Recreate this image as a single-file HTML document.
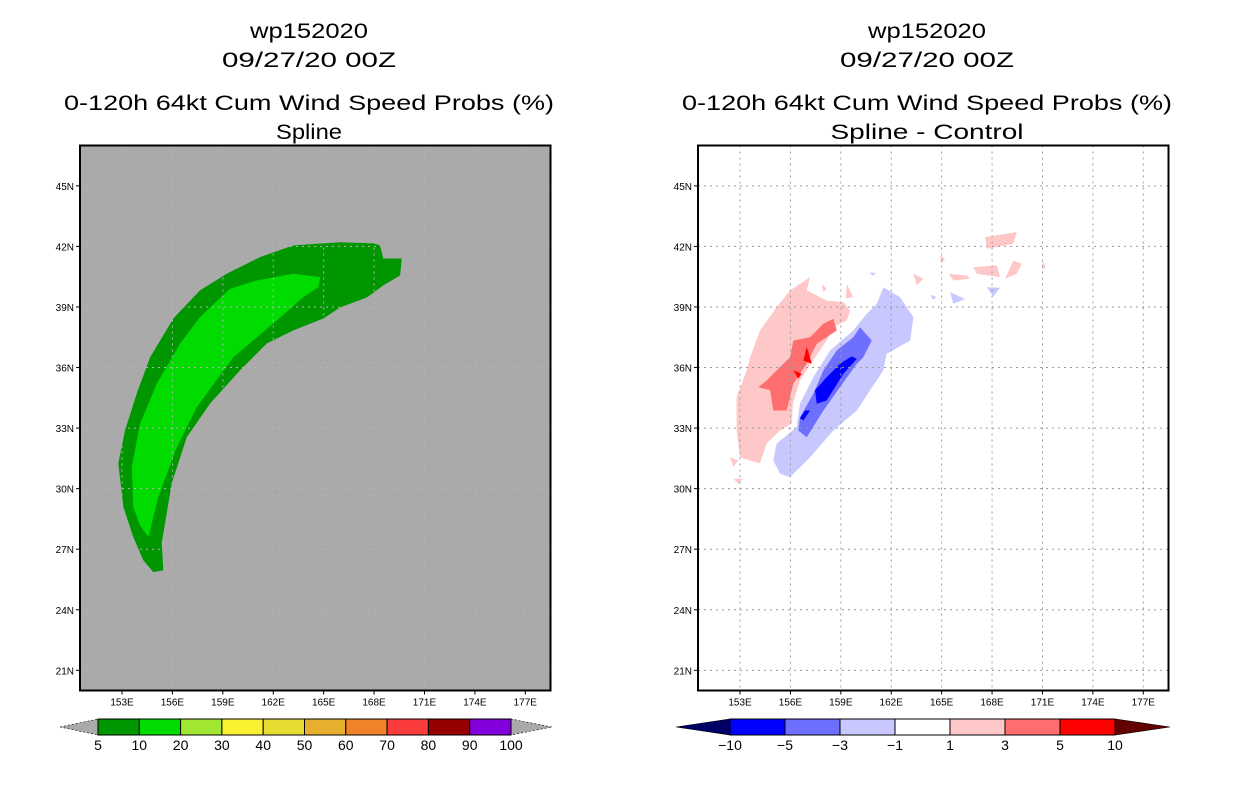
<!DOCTYPE html>
<html><head><meta charset="utf-8"><style>
html,body{margin:0;padding:0;background:#fff}
svg text{font-family:"Liberation Sans",sans-serif}
</style></head><body>
<svg id="s" width="1236" height="800" viewBox="0 0 1236 800" xmlns="http://www.w3.org/2000/svg"></svg>
<script>
const lonTicks=[153,156,159,162,165,168,171,174,177];
const latTicks=[21,24,27,30,33,36,39,42,45];
const lonTickLabels=["153E","156E","159E","162E","165E","168E","171E","174E","177E"];
const latTickLabels=["21N","24N","27N","30N","33N","36N","39N","42N","45N"];
const probLevels=["5","10","20","30","40","50","60","70","80","90","100"];
const probColors=["#009600","#00dc00","#a0e632","#faf032","#e6dc32","#e6af2d","#f08228","#fa3c3c","#960000","#8200dc"];
const diffLevels=["\u221210","\u22125","\u22123","\u22121","1","3","5","10"];
const diffColors=["#0000ff","#6e6eff","#c8c8ff","#ffffff","#ffc8c8","#ff6e6e","#ff0000"];
const prob5Lon=[155.46,155.36,155.96,156.85,158.24,160.02,161.61,163.2,164.98,165.98,167.57,168.55,169.55,169.65,168.55,168.36,167.96,165.98,163.2,161.21,159.23,157.64,156.05,154.67,153.88,153.18,152.78,153.08,153.67,154.27,154.86];
const prob5Lat=[25.95,27.29,30.26,32.54,34.22,35.86,37.19,37.84,38.43,38.98,39.47,40.07,40.56,41.4,41.4,42.05,42.15,42.21,42.05,41.47,40.65,39.82,38.43,36.51,34.72,32.88,31.25,29.09,27.6,26.45,25.87];
const prob10Lon=[154.57,155.16,156.26,157.45,159.63,162.21,163.79,164.68,164.79,163.2,161.02,159.43,157.64,156.45,155.07,154.07,153.58,153.67,154.07];
const prob10Lat=[27.6,29.58,32.06,34.04,36.51,38.33,39.49,39.98,40.48,40.65,40.31,39.9,38.5,37.18,35.2,33.22,31.07,29.09,28.18];
const diffPink1Lon=[157.17,156.97,158.16,159.15,159.55,159.35,158.54,158.16,157.35,156.57,156.15,156.08,155.38,154.59,154.19,153.0,152.8,152.8,153.4,153.6,154.19,155.18,155.98];
const diffPink1Lat=[40.48,39.82,39.32,39.24,38.83,38.33,38.0,37.34,36.35,35.36,34.22,33.23,32.88,32.24,31.25,31.55,32.88,34.53,35.86,36.51,37.84,38.99,39.82];
const diffRedLon=[158.55,158.76,158.16,157.57,156.97,156.17,155.78,154.98,154.79,154.09,154.59,155.18,155.98,156.17,157.17,157.96];
const diffRedLat=[38.42,37.84,37.5,37.18,36.19,35.2,33.87,33.87,34.87,35.03,35.36,35.86,36.51,37.34,37.5,38.17];
const diffDR1Lon=[156.97,157.27,156.77];const diffDR1Lat=[37.03,36.19,36.35];
const diffDR2Lon=[156.17,156.67,156.47];const diffDR2Lat=[35.86,35.69,35.45];
const diffBlueLtLon=[161.53,162.52,163.32,163.12,161.73,161.53,160.74,159.95,158.55,157.17,155.98,155.38,154.98,155.18,156.37,156.57,157.36,158.36,159.74,160.54,161.14];
const diffBlueLtLat=[39.98,39.49,38.5,37.34,36.68,35.86,34.87,33.87,32.88,31.56,30.57,30.74,31.4,32.22,33.05,34.21,35.52,36.85,37.84,38.66,39.16];
const diffBlueLon=[160.14,160.84,160.34,159.95,158.95,157.96,156.97,156.47,156.57,157.36,157.96,158.76,159.74];
const diffBlueLat=[38.0,37.34,36.51,36.19,35.03,33.87,32.55,32.88,33.54,34.7,35.86,36.85,37.5];
const diffBlueDkLon=[159.65,159.95,159.15,158.16,157.57,157.46,158.16,158.95];
const diffBlueDkLat=[36.55,36.43,35.69,34.37,34.21,34.87,35.52,36.19];
const diffBlueDk2Lon=[157.17,156.77,156.57,156.87];const diffBlueDk2Lat=[33.87,33.38,33.48,33.87];
const pinkBlobsLon=[[167.58,169.47,169.27,167.69],[166.89,168.28,168.48,167.09],[169.27,169.77,169.47,168.77],[165.4,166.49,166.69,165.7],[164.9,165.2,165.0],[163.32,163.91,163.52],[159.35,159.74,159.3],[157.86,158.16,157.96],[152.4,152.9,152.6],[152.6,153.2,152.9],[171.0,171.2,171.0]];
const pinkBlobsLat=[[42.46,42.71,42.13,41.88],[40.97,41.06,40.48,40.65],[41.3,41.14,40.65,40.4],[40.65,40.56,40.4,40.31],[41.55,41.39,41.14],[40.65,40.4,40.07],[40.15,39.49,39.42],[40.15,39.9,39.73],[31.56,31.4,31.07],[30.49,30.49,30.24],[41.3,41.0,40.8]];
const blueBlobsLon=[[165.5,166.39,165.7],[167.68,168.48,168.08],[164.3,164.7,164.5],[160.7,161.1,160.9]];
const blueBlobsLat=[[39.73,39.4,39.16],[39.98,39.95,39.52],[39.6,39.5,39.35],[40.7,40.7,40.55]];

const NS='http://www.w3.org/2000/svg';
const svg=document.getElementById('s');
function mk(tag,attrs,parent){const e=document.createElementNS(NS,tag);for(const k in attrs)e.setAttribute(k,attrs[k]);(parent||svg).appendChild(e);return e;}
const LON0=150.5,LON1=178.5,LAT0=20,LAT1=47,W=470.5,H=545,TOP=145.5;
function xs(off){return lon=>off+(lon-LON0)/(LON1-LON0)*W;}
function ys(lat){return TOP+(LAT1-lat)/(LAT1-LAT0)*H;}
function poly(g,x,lons,lats,fill,name){const pts=lons.map((l,i)=>x(l).toFixed(1)+','+ys(lats[i]).toFixed(1)).join(' ');const p=mk('polygon',{points:pts,fill:fill},g);return p;}
function txt(x,y,s,size,anchor,len,name,g){const t=mk('text',{x:x,y:y,'font-size':size,'text-anchor':anchor||'middle',fill:'#000'},g);if(len){t.setAttribute('textLength',len);t.setAttribute('lengthAdjust','spacingAndGlyphs');}t.textContent=s;return t;}

function panel(off,cx,sub,subLen,bg,name){
  const g=mk('g',{});
  txt(cx,38,'wp152020',21,'middle',118,'title-storm-id',g);
  txt(cx,67,'09/27/20 00Z',21,'middle',174,'title-date',g);
  txt(cx,110,'0-120h 64kt Cum Wind Speed Probs (%)',21,'middle',490,'title-product',g);
  txt(cx,139,sub,21,'middle',subLen,'subtitle',g);
  const r=mk('rect',{x:off,y:TOP,width:W,height:H,fill:bg},g);
  return g;
}
function axes(g,off,gridColor){
  const x=xs(off);
  const gg=mk('g',{},g);
  lonTicks.forEach(l=>{const ln=mk('line',{x1:x(l),x2:x(l),y1:TOP,y2:TOP+H,stroke:gridColor,'stroke-width':1,'stroke-dasharray':'2,4'},gg);});
  latTicks.forEach(l=>{const ln=mk('line',{x1:off,x2:off+W,y1:ys(l),y2:ys(l),stroke:gridColor,'stroke-width':1,'stroke-dasharray':'2,4'},gg);});
  const b=mk('rect',{x:off,y:TOP,width:W,height:H,fill:'none',stroke:'#000','stroke-width':2},g);
  lonTicks.forEach((l,i)=>{mk('line',{x1:x(l),x2:x(l),y1:TOP+H,y2:TOP+H+4,stroke:'#000'},g);txt(x(l),TOP+H+15,lonTickLabels[i],10,'middle',null,'x-tick-label',g);});
  latTicks.forEach((l,i)=>{mk('line',{x1:off-4,x2:off,y1:ys(l),y2:ys(l),stroke:'#000'},g);txt(off-6,ys(l)+4,latTickLabels[i],10,'end',null,'y-tick-label',g);});
}
function colorbar(g,x0,x1,tipL,tipR,labels,colors,lc,rc,name){
  const cb=mk('g',{},g);
  const y0=719,y1=735,ym=727,n=colors.length,w=(x1-x0)/n;
  mk('polygon',{points:`${tipL},${ym} ${x0},${y0} ${x0},${y1}`,fill:lc,stroke:'#000','stroke-width':0.6,'stroke-dasharray':lc==='#aaaaaa'?'2,2':'none'},cb);
  mk('polygon',{points:`${tipR},${ym} ${x1},${y0} ${x1},${y1}`,fill:rc,stroke:'#000','stroke-width':0.6,'stroke-dasharray':rc==='#aaaaaa'?'2,2':'none'},cb);
  colors.forEach((c,i)=>{const r=mk('rect',{x:x0+i*w,y:y0,width:w,height:y1-y0,fill:c,stroke:'#000','stroke-width':1},cb);});
  labels.forEach((s,i)=>txt(x0+i*w,750,s,14,'middle',null,'colorbar-label',cb));
}

const gL=panel(80,309,'Spline',66,'#aaaaaa','left-panel');
const xL=xs(80);
poly(gL,xL,prob5Lon,prob5Lat,probColors[0],'prob-5-10-area');
poly(gL,xL,prob10Lon,prob10Lat,probColors[1],'prob-10-20-area');
axes(gL,80,'#b4b4b4');
colorbar(gL,98,511,60,552,probLevels,probColors,'#aaaaaa','#aaaaaa','prob-colorbar');

const gR=panel(698,927,'Spline - Control',193,'#ffffff','right-panel');
const xR=xs(698);
poly(gR,xR,diffPink1Lon,diffPink1Lat,diffColors[4],'diff-1-3-area');
pinkBlobsLon.forEach((ls,i)=>poly(gR,xR,ls,pinkBlobsLat[i],diffColors[4],'diff-1-3-blob'));
poly(gR,xR,diffRedLon,diffRedLat,diffColors[5],'diff-3-5-area');
poly(gR,xR,diffDR1Lon,diffDR1Lat,diffColors[6],'diff-5-10-area');
poly(gR,xR,diffDR2Lon,diffDR2Lat,diffColors[6],'diff-5-10-area');
poly(gR,xR,diffBlueLtLon,diffBlueLtLat,diffColors[2],'diff-m1-m3-area');
blueBlobsLon.forEach((ls,i)=>poly(gR,xR,ls,blueBlobsLat[i],diffColors[2],'diff-m1-m3-blob'));
poly(gR,xR,diffBlueLon,diffBlueLat,diffColors[1],'diff-m3-m5-area');
poly(gR,xR,diffBlueDkLon,diffBlueDkLat,diffColors[0],'diff-m5-m10-area');
poly(gR,xR,diffBlueDk2Lon,diffBlueDk2Lat,diffColors[0],'diff-m5-m10-area');
axes(gR,698,'#9a9a9a');
colorbar(gR,730,1115,676,1170,diffLevels,diffColors,'#000064','#640000','diff-colorbar');
</script>
</body></html>
